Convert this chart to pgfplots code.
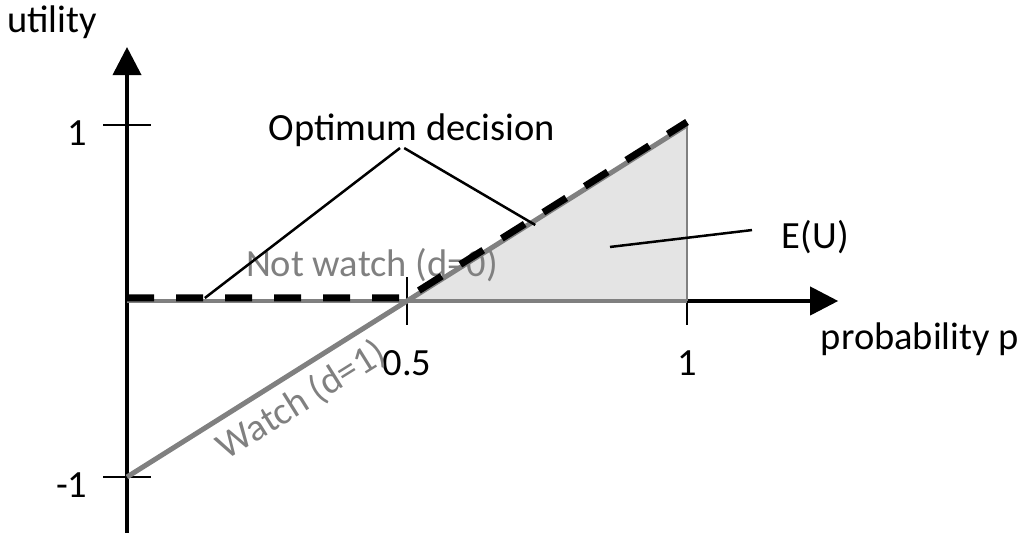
\documentclass[border=0pt]{standalone}
\usepackage{fontspec}
\setmainfont{Carlito}
\usepackage{pgfplots}
\pgfplotsset{compat=1.18}
\usetikzlibrary{arrows.meta}

\definecolor{linegray}{HTML}{808080}
\definecolor{areagray}{HTML}{E4E4E4}

\begin{document}
\begin{tikzpicture}[font=\fontsize{38.5}{46}\selectfont]
\begin{axis}[
    x=560pt, y=176pt,
    xmin=0, xmax=1.27,
    ymin=-1.318, ymax=1.443,
    axis lines=middle,
    axis line style={line width=3.8pt, -{Triangle[length=28pt,width=28pt]}},
    xtick={0.5,1}, ytick={-1,1},
    xticklabels={0.5,1}, yticklabels={-1,1},
    major tick length=48pt,
    tick align=center,
    tick style={line width=2pt, black},
    xticklabel style={anchor=north, yshift=-22pt},
    yticklabel style={anchor=east, xshift=-12pt, yshift=-8pt},
    xlabel={probability p}, ylabel={utility},
    every axis x label/.style={at={(axis cs:1.416,-0.22)}, anchor=center},
    every axis y label/.style={at={(axis cs:-0.134,1.585)}, anchor=center},
    clip=false,
]
% expected utility area
\addplot[fill=areagray, draw=none] coordinates {(0.5,0) (1,1) (1,0)} -- cycle;
\addplot[linegray, line width=2pt] coordinates {(1,0) (1,1)};
% not watch (d=0)
\addplot[linegray, line width=4pt] coordinates {(0,0) (1,0)};
% watch (d=1)
\addplot[linegray, line width=5pt] coordinates {(0,-1) (1,1)};
\node[text=linegray] at (axis cs:0.4375,0.205) {Not watch (d=0)};
\node[text=linegray, rotate=32] at (axis cs:0.312,-0.565) {Watch (d=1)};
% optimum decision
\addplot[black, line width=7pt, dash pattern=on 27pt off 22pt, yshift=3pt] coordinates {(0,0) (0.5,0) (1,1)};

\node at (axis cs:0.509,0.972) {Optimum decision};
\draw[line width=2.5pt] (axis cs:0.4875,0.869) -- (axis cs:0.139,0.017);
\draw[line width=2.5pt] (axis cs:0.495,0.869) -- (axis cs:0.729,0.432);
\node at (axis cs:1.229,0.364) {E(U)};
\draw[line width=2.5pt] (axis cs:1.116,0.403) -- (axis cs:0.8625,0.307);

\coordinate (bl) at (axis cs:-0.2268,-1.318);
\coordinate (tr) at (axis cs:1.5964,1.7102);
\end{axis}
\pgfresetboundingbox
\path[use as bounding box] (bl) rectangle (tr);
\end{tikzpicture}
\end{document}
